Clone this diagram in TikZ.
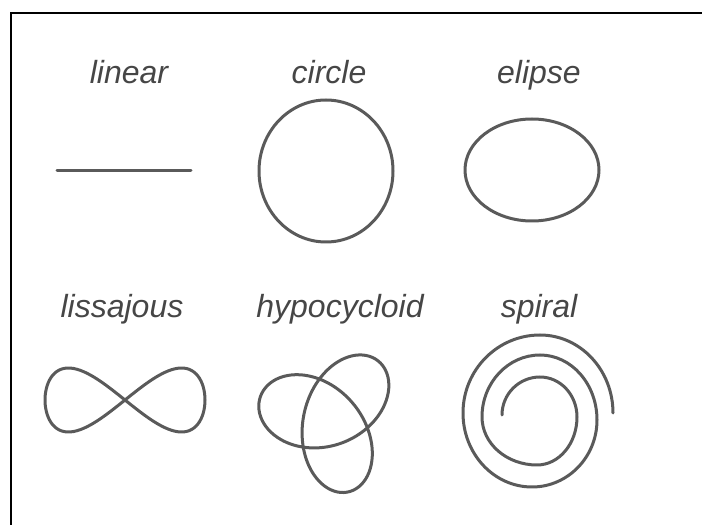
\documentclass[tikz,border=0pt]{standalone}
\usepackage{fontspec}
\setmainfont{Liberation Sans}
\usepackage{tikz}
\usetikzlibrary{positioning}
\definecolor{labelgray}{HTML}{464646}
\definecolor{tracegray}{HTML}{5A5A5A}

\begin{document}
\begin{tikzpicture}[x=1pt,y=1pt,
    lbl/.style={font=\itshape\fontsize{32}{32}\selectfont,text=labelgray,anchor=base,inner sep=0pt},
    figline/.style={draw=tracegray,line width=3pt,line join=round,line cap=round}
]
\useasboundingbox (0,0) rectangle (702,525);
% frame
\draw[line width=2pt] (11,0) -- (11,512) -- (702,512);

% labels
\node[lbl] (linearlbl) at (129,441) {linear};
\node[lbl] (circlelbl) at (329,441) {circle};
\node[lbl] (ellipselbl) at (539,441) {elipse};
\node[lbl] (lissajouslbl) at (122,207) {lissajous};
\node[lbl] (hypolbl) at (340,207) {hypocycloid};
\node[lbl] (spirallbl) at (539,207) {spiral};

% top row
\draw[figline] (57,354.5) -- (191,354.5);
\draw[figline] (326,354) ellipse[x radius=67,y radius=71];
\draw[figline] (532,355) ellipse[x radius=67,y radius=51];

% bottom row
\draw[figline] plot[domain=0:360,samples=120,smooth cycle]
    ({125+80*cos(\x)},{125+32*sin(2*\x)});
\draw[figline] plot[domain=0:358,samples=150,smooth cycle]
    ({330+0.95*52*(cos(2*\x+46)+0.47*cos(46-\x))},{107+52*(sin(2*\x+46)+0.47*sin(46-\x))});
\draw[figline] (502,110)
    arc[start angle=180,end angle=90,x radius=38,y radius=38]
    arc[start angle=90,end angle=0,x radius=37,y radius=40]
    arc[start angle=0,end angle=-90,x radius=40,y radius=48]
    arc[start angle=-90,end angle=-180,x radius=55,y radius=48]
    arc[start angle=180,end angle=90,x radius=58,y radius=62]
    arc[start angle=90,end angle=0,x radius=57,y radius=65]
    arc[start angle=0,end angle=-90,x radius=65,y radius=67]
    arc[start angle=-90,end angle=-180,x radius=69,y radius=74]
    arc[start angle=180,end angle=90,x radius=77,y radius=78]
    arc[start angle=90,end angle=0,x radius=73,y radius=78];
\end{tikzpicture}
\end{document}
